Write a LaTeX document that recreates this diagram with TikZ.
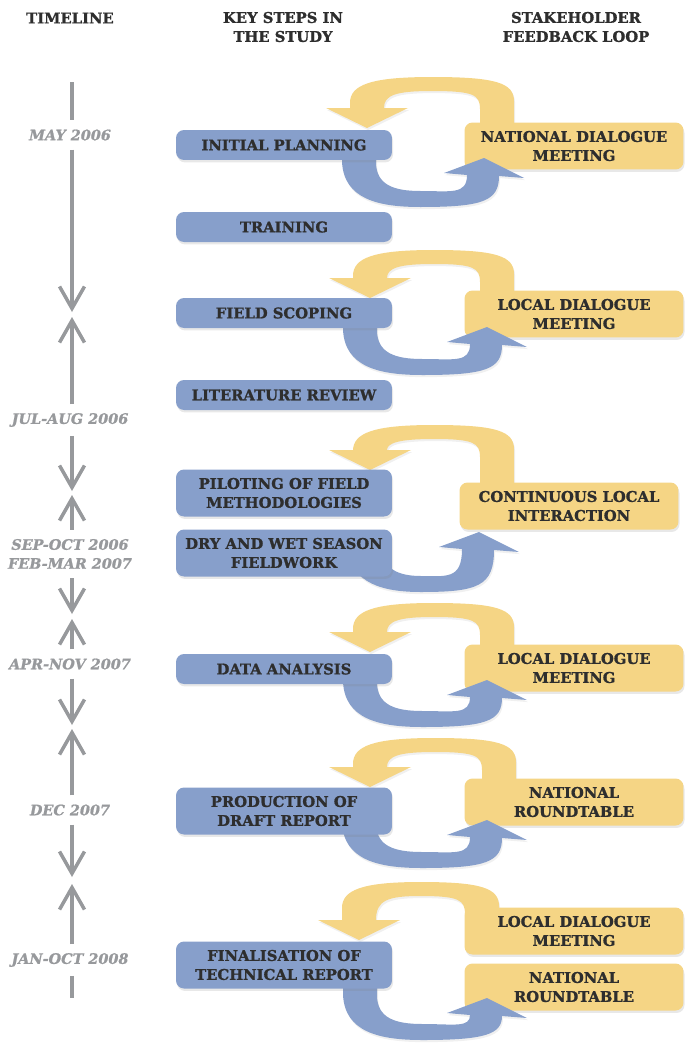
\documentclass[tikz,border=0pt]{standalone}
\usepackage{fontspec}
\setmainfont{DejaVu Serif}[BoldFeatures={FakeBold=1.2}, BoldItalicFeatures={FakeBold=1.2}]
\usetikzlibrary{arrows.meta,shadows}

\definecolor{stepblue}{HTML}{879FCB}
\definecolor{loopyellow}{HTML}{F5D585}
\definecolor{ink}{HTML}{2E2E2E}
\definecolor{tlgray}{HTML}{97999C}

\begin{document}
\begin{tikzpicture}[
  x=0.02cm, y=-0.02cm,
  boxfont/.style={font=\fontsize{8.4}{10.8}\selectfont\bfseries},
  head/.style={boxfont, text=ink, align=center},
  stepbox/.style={boxfont, text=ink, align=center, fill=stepblue,
    rounded corners=0.16cm, minimum width=4.32cm, minimum height=0.6cm,
    drop shadow={shadow xshift=0.6pt, shadow yshift=-1.4pt, opacity=0.18}},
  tall/.style={minimum height=0.94cm},
  loopbox/.style={stepbox, fill=loopyellow, minimum width=4.38cm, tall},
  date/.style={font=\fontsize{8.2}{10.8}\selectfont\bfseries\itshape,
    text=tlgray, align=center, inner xsep=0pt, inner ysep=5pt},
  tline/.style={draw=tlgray, line width=0.07cm},
  meet/.style={-{Straight Barb[length=0.44cm, width=0.5cm]}},
  feedback/.style={drop shadow={shadow xshift=0.6pt, shadow yshift=-1.2pt, opacity=0.12}},
]
  \useasboundingbox (0,0) rectangle (687,1048);

  % column headings
  \node[head] (hline) at (70,18)  {TIMELINE};
  \node[head] (hstep) at (283,27) {KEY STEPS IN\\THE STUDY};
  \node[head] (hloop) at (576,27) {STAKEHOLDER\\FEEDBACK LOOP};

  % timeline
  \node[date] (d1) at (70,135) {MAY 2006};
  \node[date] (d2) at (70,420) {JUL-AUG 2006};
  \node[date] (d3) at (70,554) {SEP-OCT 2006\\FEB-MAR 2007};
  \node[date] (d4) at (70,664) {APR-NOV 2007};
  \node[date] (d5) at (70,810) {DEC 2007};
  \node[date] (d6) at (70,960) {JAN-OCT 2008};

  \coordinate (tstart) at (72,82);
  \coordinate (tend)   at (72,998);
  \foreach \n/\a/\b in {1/312/317, 2/491/495, 3/614/619, 4/725/729, 5/877/884} {
    \coordinate (m\n d) at (72,\a);
    \coordinate (m\n u) at (72,\b);
  }

  \draw[tline] (tstart) -- (d1.north -| tstart);
  \foreach \i/\j in {1/2, 2/3, 3/4, 4/5, 5/6} {
    \draw[tline, meet] (d\i.south -| tstart) -- (m\i d);
    \draw[tline, meet] (d\j.north -| tstart) -- (m\i u);
  }
  \draw[tline] (d6.south -| tstart) -- (tend);

  % yellow return arrows: left x, arch top, tip, right x, foot
  \foreach \l/\t/\p/\r/\b in {350/77/128/480/146, 353/250/298/480/314,
      353/425/470/480/506, 353/603/652/480/668, 353/738/787/482/802,
      342/882/940/465/931} {
    \fill[loopyellow, feedback] (\r+34,\b) -- (\r+34,\t+24)
      .. controls (\r+34,\t+6) and (\r+16,\t) .. ({(\l+\r+34)/2},\t)
      .. controls (\l+20,\t) and (\l,\t+8) .. (\l,\t+26)
      -- (\l,\p-20) -- (\l-24,\p-20) -- (\l+17,\p) -- (\l+58,\p-20) -- (\l+34,\p-20)
      .. controls (\l+34,\t+18) and (\l+46,\t+14) .. ({(\l+\r+34)/2},\t+14)
      .. controls (\r-6,\t+14) and (\r,\t+18) .. (\r,\t+32)
      -- (\r,\b) -- cycle;
  }

  % stakeholder side
  \node[loopbox] (natl)   at (574,146) {NATIONAL DIALOGUE\\MEETING};
  \node[loopbox] (local)  at (574,314) {LOCAL DIALOGUE\\MEETING};
  \node[loopbox] (cont)   at (569,506) {CONTINUOUS LOCAL\\INTERACTION};
  \node[loopbox] (local2) at (574,668) {LOCAL DIALOGUE\\MEETING};
  \node[loopbox] (round)  at (574,802) {NATIONAL\\ROUNDTABLE};
  \node[loopbox] (local3) at (574,931) {LOCAL DIALOGUE\\MEETING};
  \node[loopbox] (round2) at (574,987) {NATIONAL\\ROUNDTABLE};

  % blue outgoing arrows: left x, start, bottom, right x, tip
  \foreach \l/\s/\b/\r/\p in {342/145/207/467/158, 343/313/375/470/327,
      348/540/592/462/532, 343/669/727/470/680, 342/811/868/470/820,
      343/965/1040/470/998} {
    \fill[stepblue, feedback] (\l,\s) -- (\l,\b-45)
      .. controls (\l+2,\b-8) and (\l+36,\b) .. ({(\l+\r+32)/2},\b)
      .. controls (\r+16,\b) and (\r+32,\b-6) .. (\r+32,\p+18)
      -- (\r+57,\p+20) -- (\r+17,\p) -- (\r-23,\p+15) -- (\r,\p+17)
      .. controls (\r,\b-12) and (\r-16,\b-16) .. ({(\l+\r+32)/2},\b-16)
      .. controls (\l+52,\b-16) and (\l+34,\b-22) .. (\l+34,\b-45)
      -- (\l+34,\s) -- cycle;
  }

  % key steps
  \node[stepbox]       (plan)      at (284,145) {INITIAL PLANNING};
  \node[stepbox]       (train)     at (284,227) {TRAINING};
  \node[stepbox]       (scope)     at (284,313) {FIELD SCOPING};
  \node[stepbox]       (lit)       at (284,395) {LITERATURE REVIEW};
  \node[stepbox, tall] (pilot)     at (284,493) {PILOTING OF FIELD\\METHODOLOGIES};
  \node[stepbox, tall] (fieldwork) at (284,553) {DRY AND WET SEASON\\FIELDWORK};
  \node[stepbox]       (analysis)  at (284,669) {DATA ANALYSIS};
  \node[stepbox, tall] (draft)     at (284,811) {PRODUCTION OF\\DRAFT REPORT};
  \node[stepbox, tall] (final)     at (284,965) {FINALISATION OF\\TECHNICAL REPORT};
\end{tikzpicture}
\end{document}
